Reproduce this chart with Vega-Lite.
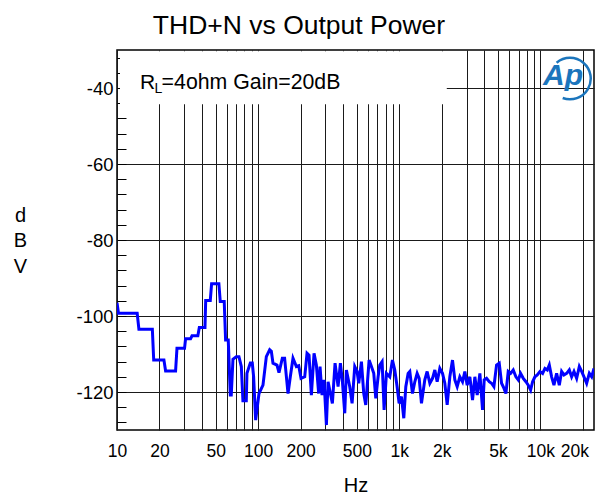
{
  "$schema": "https://vega.github.io/schema/vega-lite/v6.json",
  "width": 477,
  "height": 380,
  "autosize": {"type": "none"},
  "padding": {"left": 117, "top": 50, "right": 1, "bottom": 64},
  "background": "#ffffff",
  "config": {
    "view": {"stroke": "#000000", "strokeWidth": 1.5},
    "font": "Liberation Sans"
  },
  "title": {
    "text": "THD+N vs Output Power",
    "font": "Liberation Sans",
    "fontSize": 26.5,
    "fontWeight": "normal",
    "color": "#000000",
    "anchor": "middle",
    "frame": "group",
    "dx": -56.5,
    "baseline": "alphabetic",
    "offset": -11.6
  },
  "datasets": {
    "thdn": [
      {"f": 10, "dbv": -96.5},
      {"f": 10.25, "dbv": -99.3},
      {"f": 13.9, "dbv": -99.3},
      {"f": 14.3, "dbv": -103.5},
      {"f": 17.8, "dbv": -103.5},
      {"f": 18.2, "dbv": -111.6},
      {"f": 21.5, "dbv": -111.6},
      {"f": 22.1, "dbv": -114.5},
      {"f": 26.0, "dbv": -114.5},
      {"f": 26.6, "dbv": -108.5},
      {"f": 30.1, "dbv": -108.5},
      {"f": 30.6, "dbv": -106.0},
      {"f": 33.2, "dbv": -106.0},
      {"f": 34.0, "dbv": -105.2},
      {"f": 37.4, "dbv": -105.2},
      {"f": 38.3, "dbv": -103.0},
      {"f": 42.0, "dbv": -103.0},
      {"f": 42.5, "dbv": -95.9},
      {"f": 45.8, "dbv": -95.9},
      {"f": 46.8, "dbv": -91.5},
      {"f": 52.7, "dbv": -91.5},
      {"f": 53.9, "dbv": -96.2},
      {"f": 57.5, "dbv": -96.2},
      {"f": 58.8, "dbv": -106.3},
      {"f": 61.4, "dbv": -106.3},
      {"f": 63.5, "dbv": -120.8},
      {"f": 64.5, "dbv": -120.8},
      {"f": 66.3, "dbv": -111.4},
      {"f": 70.0, "dbv": -110.7},
      {"f": 73.1, "dbv": -110.7},
      {"f": 76.0, "dbv": -113.3},
      {"f": 78.0, "dbv": -122.3},
      {"f": 82.4, "dbv": -122.3},
      {"f": 83.3, "dbv": -115.1},
      {"f": 88.0, "dbv": -112.4},
      {"f": 90.9, "dbv": -112.4},
      {"f": 92.9, "dbv": -116.0},
      {"f": 96.0, "dbv": -127.4},
      {"f": 101.4, "dbv": -120.4},
      {"f": 108.2, "dbv": -118.2},
      {"f": 114.3, "dbv": -110.7},
      {"f": 120.7, "dbv": -108.9},
      {"f": 124, "dbv": -109.3},
      {"f": 127.4, "dbv": -112.4},
      {"f": 136, "dbv": -112.9},
      {"f": 140.5, "dbv": -114.9},
      {"f": 148.4, "dbv": -111.1},
      {"f": 154, "dbv": -111.1},
      {"f": 162.8, "dbv": -120.4},
      {"f": 169, "dbv": -116.0},
      {"f": 176.6, "dbv": -111.1},
      {"f": 186.6, "dbv": -113.3},
      {"f": 193.8, "dbv": -113.1},
      {"f": 201.3, "dbv": -116.4},
      {"f": 213.8, "dbv": -116.0},
      {"f": 222, "dbv": -109.8},
      {"f": 229.4, "dbv": -110.3},
      {"f": 238.3, "dbv": -120.8},
      {"f": 248.9, "dbv": -109.8},
      {"f": 258.5, "dbv": -112.9},
      {"f": 268.5, "dbv": -120.4},
      {"f": 274.5, "dbv": -113.3},
      {"f": 283.6, "dbv": -120.8},
      {"f": 293, "dbv": -116.8},
      {"f": 304.5, "dbv": -128.7},
      {"f": 312.9, "dbv": -117.3},
      {"f": 335.7, "dbv": -123.0},
      {"f": 350.7, "dbv": -112.4},
      {"f": 368.4, "dbv": -118.6},
      {"f": 382.6, "dbv": -112.4},
      {"f": 395.4, "dbv": -117.3},
      {"f": 410.7, "dbv": -125.6},
      {"f": 421.9, "dbv": -114.2},
      {"f": 445.6, "dbv": -118.6},
      {"f": 463, "dbv": -123.0},
      {"f": 483.5, "dbv": -113.3},
      {"f": 502.3, "dbv": -114.6},
      {"f": 516.2, "dbv": -117.7},
      {"f": 539.2, "dbv": -112.0},
      {"f": 560, "dbv": -120.4},
      {"f": 578.6, "dbv": -123.4},
      {"f": 611, "dbv": -111.6},
      {"f": 634.8, "dbv": -113.3},
      {"f": 659.4, "dbv": -115.1},
      {"f": 681.3, "dbv": -121.7},
      {"f": 707.8, "dbv": -116.0},
      {"f": 727.3, "dbv": -112.9},
      {"f": 755.5, "dbv": -112.0},
      {"f": 780.6, "dbv": -124.7},
      {"f": 810.9, "dbv": -115.1},
      {"f": 856.2, "dbv": -116.0},
      {"f": 894.4, "dbv": -111.6},
      {"f": 929, "dbv": -114.2},
      {"f": 965.2, "dbv": -118.6},
      {"f": 997, "dbv": -123.0},
      {"f": 1036, "dbv": -121.2},
      {"f": 1076, "dbv": -126.9},
      {"f": 1112, "dbv": -118.6},
      {"f": 1155, "dbv": -115.1},
      {"f": 1187, "dbv": -114.6},
      {"f": 1240, "dbv": -120.4},
      {"f": 1288, "dbv": -117.3},
      {"f": 1338, "dbv": -115.1},
      {"f": 1383, "dbv": -116.4},
      {"f": 1436, "dbv": -123.0},
      {"f": 1516, "dbv": -116.8},
      {"f": 1575, "dbv": -114.6},
      {"f": 1646, "dbv": -117.7},
      {"f": 1719, "dbv": -116.4},
      {"f": 1786, "dbv": -114.2},
      {"f": 1855, "dbv": -117.3},
      {"f": 1937, "dbv": -113.8},
      {"f": 2024, "dbv": -115.1},
      {"f": 2102, "dbv": -117.7},
      {"f": 2184, "dbv": -123.4},
      {"f": 2281, "dbv": -116.0},
      {"f": 2382, "dbv": -111.6},
      {"f": 2475, "dbv": -116.8},
      {"f": 2571, "dbv": -118.6},
      {"f": 2685, "dbv": -116.0},
      {"f": 2805, "dbv": -117.3},
      {"f": 2914, "dbv": -114.6},
      {"f": 3027, "dbv": -118.2},
      {"f": 3162, "dbv": -116.0},
      {"f": 3303, "dbv": -122.1},
      {"f": 3431, "dbv": -116.0},
      {"f": 3565, "dbv": -120.8},
      {"f": 3723, "dbv": -115.1},
      {"f": 3889, "dbv": -124.7},
      {"f": 3996, "dbv": -116.8},
      {"f": 4151, "dbv": -116.4},
      {"f": 4336, "dbv": -117.3},
      {"f": 4504, "dbv": -117.7},
      {"f": 4680, "dbv": -118.6},
      {"f": 4888, "dbv": -112.9},
      {"f": 5105, "dbv": -112.4},
      {"f": 5304, "dbv": -117.7},
      {"f": 5510, "dbv": -119.0},
      {"f": 5693, "dbv": -120.4},
      {"f": 5914, "dbv": -114.6},
      {"f": 6143, "dbv": -115.1},
      {"f": 6416, "dbv": -114.2},
      {"f": 6702, "dbv": -116.0},
      {"f": 6963, "dbv": -116.8},
      {"f": 7234, "dbv": -115.1},
      {"f": 7556, "dbv": -116.4},
      {"f": 7894, "dbv": -117.3},
      {"f": 8200, "dbv": -118.2},
      {"f": 8519, "dbv": -119.5},
      {"f": 8800, "dbv": -117.3},
      {"f": 9142, "dbv": -116.0},
      {"f": 9495, "dbv": -115.5},
      {"f": 9919, "dbv": -114.6},
      {"f": 10361, "dbv": -115.1},
      {"f": 10763, "dbv": -113.8},
      {"f": 11181, "dbv": -114.2},
      {"f": 11553, "dbv": -112.9},
      {"f": 12002, "dbv": -116.0},
      {"f": 12466, "dbv": -118.2},
      {"f": 13021, "dbv": -115.1},
      {"f": 13601, "dbv": -118.2},
      {"f": 14129, "dbv": -114.6},
      {"f": 14679, "dbv": -115.5},
      {"f": 15333, "dbv": -115.1},
      {"f": 16016, "dbv": -114.2},
      {"f": 16640, "dbv": -116.0},
      {"f": 17284, "dbv": -114.6},
      {"f": 18054, "dbv": -116.4},
      {"f": 18856, "dbv": -113.3},
      {"f": 19591, "dbv": -114.6},
      {"f": 20350, "dbv": -116.0},
      {"f": 21255, "dbv": -117.7},
      {"f": 22200, "dbv": -115.1},
      {"f": 23066, "dbv": -116.0},
      {"f": 23960, "dbv": -113.8}
    ]
  },
  "layer": [
    {
      "data": {"values": [{}]},
      "mark": {"type": "rect", "color": "#ffffff", "opacity": 1},
      "encoding": {
        "x": {"datum": 10.5, "type": "quantitative"},
        "x2": {"datum": 2170},
        "y": {"datum": -44.3, "type": "quantitative"},
        "y2": {"datum": -30.35}
      }
    },
    {
      "data": {"name": "thdn"},
      "mark": {"type": "line", "color": "#0000ff", "strokeWidth": 3, "clip": true},
      "encoding": {
        "x": {
          "field": "f",
          "type": "quantitative",
          "scale": {"type": "log", "domain": [10, 23960], "nice": false},
          "axis": {
            "title": "Hz",
            "titleFont": "Liberation Sans",
            "titleFontSize": 20,
            "titleFontWeight": "normal",
            "titleColor": "#000000",
            "titleBaseline": "alphabetic",
            "titleY": 61,
            "values": [10, 20, 30, 40, 50, 60, 70, 80, 90, 100, 200, 300, 400, 500, 600, 700, 800, 900, 1000, 2000, 3000, 4000, 5000, 6000, 7000, 8000, 9000, 10000, 20000],
            "tickCount": 100,
            "labelExpr": "indexof([10,20,50,100,200,500,1000,2000,5000,10000,20000], datum.value) >= 0 ? (datum.value >= 1000 ? (datum.value/1000) + 'k' : datum.value + '') : ''",
            "labelOverlap": false,
            "labelBound": false,
            "labelFlush": false,
            "labelFont": "Liberation Sans",
            "labelFontSize": 17.5,
            "labelColor": "#000000",
            "labelBaseline": "alphabetic",
            "labelPadding": 26.7,
            "labelOffset": {"condition": {"test": "datum.value == 20000", "value": -8.5}, "value": 0},
            "ticks": false,
            "tickSize": 0,
            "domain": false,
            "grid": true,
            "gridColor": "#1a1a1a",
            "gridWidth": 1,
            "gridOpacity": 1
          }
        },
        "y": {
          "field": "dbv",
          "type": "quantitative",
          "scale": {"domain": [-130, -30], "nice": false, "zero": false},
          "axis": {
            "title": ["d", "B", "V"],
            "titleFont": "Liberation Sans",
            "titleFontSize": 20,
            "titleFontWeight": "normal",
            "titleColor": "#000000",
            "titleAngle": 0,
            "titleAlign": "center",
            "titleBaseline": "middle",
            "titleLineHeight": 25.5,
            "titleX": -97,
            "titleY": 165,
            "values": [-128, -124, -120, -116, -112, -108, -104, -100, -96, -92, -88, -84, -80, -76, -72, -68, -64, -60, -56, -52, -48, -44, -40, -36, -32],
            "tickCount": 100,
            "labelExpr": "datum.value % 20 == 0 ? datum.value + '' : ''",
            "labelOverlap": false,
            "labelFont": "Liberation Sans",
            "labelFontSize": 18.5,
            "labelColor": "#000000",
            "labelPadding": 13,
            "ticks": true,
            "tickSize": -9,
            "tickColor": "#000000",
            "tickWidth": 1,
            "domain": false,
            "grid": true,
            "gridColor": "#1a1a1a",
            "gridWidth": 1,
            "gridOpacity": {"condition": {"test": "datum.value % 20 != 0", "value": 0}, "value": 1}
          }
        }
      }
    },
    {
      "data": {"values": [{}]},
      "mark": {"type": "text", "text": "R", "font": "Liberation Sans", "fontSize": 21, "align": "left", "baseline": "alphabetic", "fill": "#000000"},
      "encoding": {"x": {"datum": 14.58, "type": "quantitative"}, "y": {"datum": -40.24, "type": "quantitative"}}
    },
    {
      "data": {"values": [{}]},
      "mark": {"type": "text", "text": "L", "font": "Liberation Sans", "fontSize": 14, "align": "left", "baseline": "alphabetic", "dx": 14.5, "dy": 4, "fill": "#000000"},
      "encoding": {"x": {"datum": 14.58, "type": "quantitative"}, "y": {"datum": -40.24, "type": "quantitative"}}
    },
    {
      "data": {"values": [{}]},
      "mark": {"type": "text", "text": "=4ohm Gain=20dB", "font": "Liberation Sans", "fontSize": 21.3, "align": "left", "baseline": "alphabetic", "dx": 21.5, "fill": "#000000"},
      "encoding": {"x": {"datum": 14.58, "type": "quantitative"}, "y": {"datum": -40.24, "type": "quantitative"}}
    },
    {
      "data": {"values": [{}]},
      "mark": {"type": "arc", "fill": "#1b75bc", "innerRadius": 19.5, "outerRadius": 22, "theta": -0.7, "theta2": 3.5},
      "encoding": {"x": {"datum": 16190, "type": "quantitative"}, "y": {"datum": -37.52, "type": "quantitative"}}
    },
    {
      "data": {"values": [{}]},
      "mark": {"type": "text", "text": "Ap", "font": "Liberation Sans", "fontSize": 30, "fontStyle": "italic", "fontWeight": "bold", "align": "center", "baseline": "alphabetic", "fill": "#1b75bc"},
      "encoding": {"x": {"datum": 14444, "type": "quantitative"}, "y": {"datum": -39.1, "type": "quantitative"}}
    }
  ]
}
